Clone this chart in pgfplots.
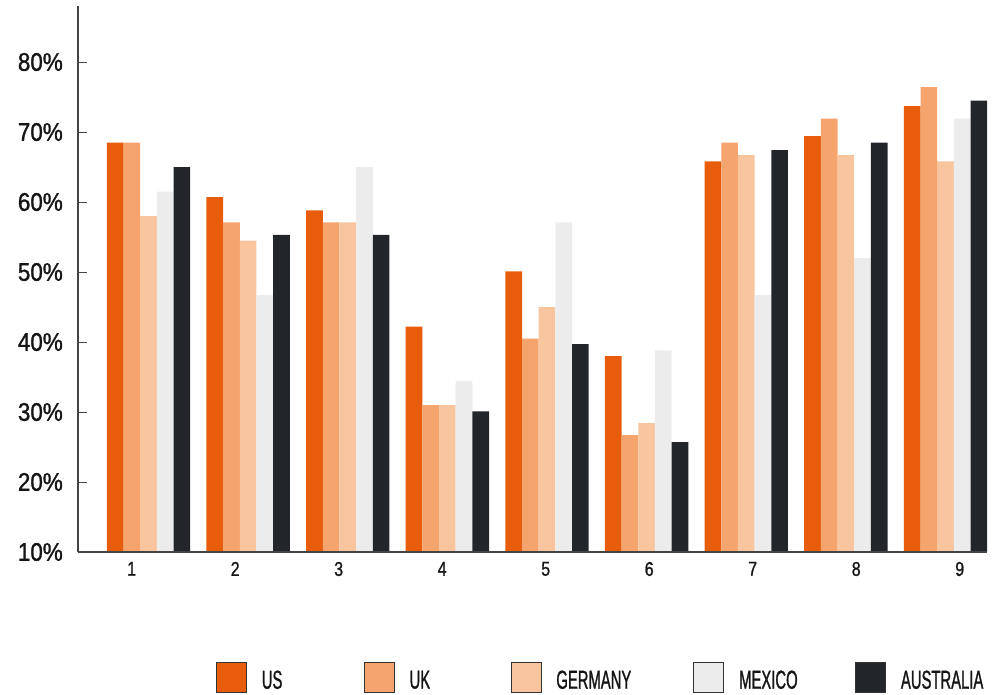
\documentclass[border=0pt]{standalone}
\usepackage{fontspec}
\setmainfont{Liberation Sans}
\newfontfamily\ylabfont[FakeStretch=0.88,FakeBold=1.2]{Liberation Sans}
\newfontfamily\xlabfont[FakeStretch=0.8,FakeBold=1]{Liberation Sans}
\newfontfamily\legfont[FakeStretch=0.57,FakeBold=1]{Liberation Sans}
\usepackage{pgfplots}
\pgfplotsset{compat=1.18}
\definecolor{cUS}{HTML}{E85D0C}
\definecolor{cUK}{HTML}{F5A46E}
\definecolor{cDE}{HTML}{F9C59F}
\definecolor{cMX}{HTML}{ECECEC}
\definecolor{cAU}{HTML}{222529}
\definecolor{axisc}{HTML}{444444}
\definecolor{txt}{HTML}{151515}
\pgfplotsset{
  mybar/.style={ybar, bar width=0.1673, draw=none, fill=#1,
    legend image code/.code={\draw[##1,draw=black!80,line width=0.8pt] (0pt,-12pt) rectangle (30pt,18pt);}},
}
\begin{document}
\begin{tikzpicture}
\begin{axis}[
  scale only axis,
  width=909pt, height=545.7pt,
  xmin=0.2923, xmax=9.4166,
  ymin=10, ymax=87.96,
  enlargelimits=false,
  axis x line=bottom, axis y line=left,
  axis line style={-, draw=axisc, line width=1.5pt},
  axis on top,
  clip=true,
  xtick={0.8314,1.8703,2.9092,3.9481,4.9870,6.0259,7.0648,8.1037,9.1426},
  xticklabels={1,2,3,4,5,6,7,8,9},
  xtick style={draw=none},
  xticklabel style={font=\xlabfont\fontsize{20}{24}\selectfont, anchor=north, inner sep=0pt, yshift=-9.7pt, text=txt},
  ytick={10,20,30,40,50,60,70,80},
  yticklabels={10\%,20\%,30\%,40\%,50\%,60\%,70\%,80\%},
  ytick style={draw=axisc, line width=1pt},
  major tick length=9pt,
  tick align=inside,
  yticklabel style={font=\ylabfont\fontsize{25.5}{30}\selectfont, anchor=east, inner sep=0pt, xshift=-15pt, text=txt},
  legend columns=5,
  legend cell align=left,
  legend style={at={(rel axis cs:0.1518,-0.2016)}, anchor=north west, draw=none, fill=none,
    inner sep=0pt, outer sep=0pt, font=\legfont\fontsize{26}{30}\selectfont, text=txt,
    nodes={inner sep=0pt},
    /tikz/every odd column/.append style={column sep=15pt}},
]
\addplot[mybar=cUS, bar shift=-0.3346] coordinates {(1,68.5) (2,60.7) (3,58.8) (4,42.2) (5,50.1) (6,38.0) (7,65.8) (8,69.4) (9,73.7)};
\addlegendentry{\makebox[102pt][l]{US}}
\addplot[mybar=cUK, bar shift=-0.1673] coordinates {(1,68.5) (2,57.1) (3,57.1) (4,31.0) (5,40.5) (6,26.7) (7,68.5) (8,71.9) (9,76.4)};
\addlegendentry{\makebox[101pt][l]{UK}}
\addplot[mybar=cDE, bar shift=0] coordinates {(1,58.0) (2,54.5) (3,57.1) (4,31.0) (5,45.0) (6,28.4) (7,66.7) (8,66.7) (9,65.8)};
\addlegendentry{\makebox[137pt][l]{GERMANY}}
\addplot[mybar=cMX, bar shift=0.1673] coordinates {(1,61.5) (2,46.7) (3,65.0) (4,34.4) (5,57.1) (6,38.8) (7,46.7) (8,52.0) (9,71.9)};
\addlegendentry{\makebox[116pt][l]{MEXICO}}
\addplot[mybar=cAU, bar shift=0.3346] coordinates {(1,65.0) (2,55.3) (3,55.3) (4,30.1) (5,39.7) (6,25.7) (7,67.4) (8,68.5) (9,74.5)};
\addlegendentry{AUSTRALIA}
\end{axis}
\pgfresetboundingbox
\useasboundingbox (-78pt,-142pt) rectangle (918pt,552pt);
\end{tikzpicture}
\end{document}
